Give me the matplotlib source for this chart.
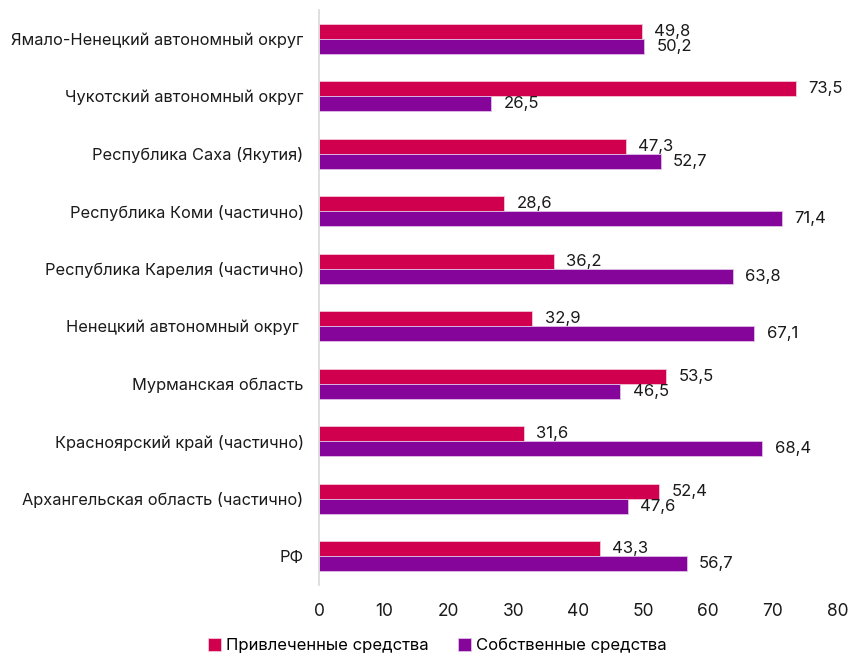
import matplotlib
matplotlib.use("Agg")
import matplotlib.pyplot as plt
import numpy as np

plt.rcParams['font.family'] = ['Inter', 'DejaVu Sans']

regions = [
    "Ямало-Ненецкий автономный округ",
    "Чукотский автономный округ",
    "Республика Саха (Якутия)",
    "Республика Коми (частично)",
    "Республика Карелия (частично)",
    "Ненецкий автономный округ ",
    "Мурманская область",
    "Красноярский край (частично)",
    "Архангельская область (частично)",
    "РФ",
]
borrowed = [49.8, 73.5, 47.3, 28.6, 36.2, 32.9, 53.5, 31.6, 52.4, 43.3]
own = [50.2, 26.5, 52.7, 71.4, 63.8, 67.1, 46.5, 68.4, 47.6, 56.7]

c_borrowed = "#D0004F"
c_own = "#85059A"

fig = plt.figure(figsize=(8.53, 6.55), dpi=100)
ax = fig.add_axes([0.374, 0.107, 0.608, 0.878])

y = np.arange(len(regions))
h = 0.26
b1 = ax.barh(y - h / 2, borrowed, height=h, color=c_borrowed, edgecolor="#f3c6d6",
             linewidth=0.6, label="Привлеченные средства")
b2 = ax.barh(y + h / 2, own, height=h, color=c_own, edgecolor="#e0c0e6",
             linewidth=0.6, label="Собственные средства")

def fmt(v):
    return f"{v:.1f}".replace(".", ",")

for bars, vals in ((b1, borrowed), (b2, own)):
    for bar, v in zip(bars, vals):
        ax.annotate(fmt(v), (bar.get_width(), bar.get_y() + bar.get_height() / 2),
                    xytext=(9, 0), textcoords="offset points",
                    va="center", ha="left", fontsize=12, color="#1a1a1a")

ax.set_xlim(0, 80)
ax.set_xticks(range(0, 81, 10))
ax.set_ylim(len(regions) - 0.5, -0.5)
ax.set_yticks(y)
ax.set_yticklabels(regions, fontsize=11.8, color="#1a1a1a")
ax.tick_params(axis="x", length=0, pad=13, labelsize=12.5, labelcolor="#1a1a1a")
ax.tick_params(axis="y", length=0, pad=11)

for s in ("top", "right", "bottom"):
    ax.spines[s].set_visible(False)
ax.spines["left"].set_color("#d9d9d9")
ax.spines["left"].set_linewidth(1.2)

ax.legend(loc="upper center", bbox_to_anchor=(0.228, -0.066), ncol=2, frameon=False,
          fontsize=12, handlelength=0.75, handleheight=0.75, handletextpad=0.3,
          columnspacing=1.8)

fig.savefig("out.png", dpi=100)
